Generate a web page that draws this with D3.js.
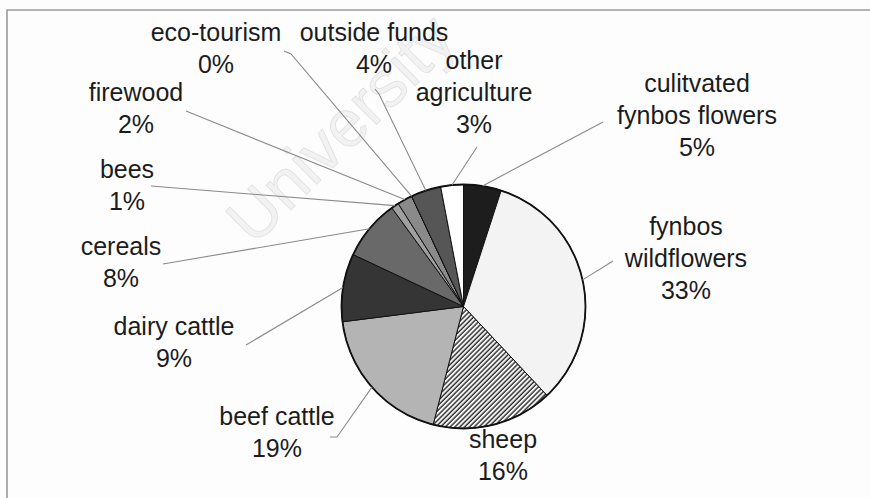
<!DOCTYPE html>
<html>
<head>
<meta charset="utf-8">
<script src="https://cdn.jsdelivr.net/npm/d3@7"></script>
<style>
  html, body { margin: 0; padding: 0; background: #fff; }
  svg { display: block; }
</style>
</head>
<body>
<svg id="chart" width="870" height="498"></svg>
<script>
// Sources of household income, share of total (%)
const categories = [
  "culitvated fynbos flowers", "fynbos wildflowers", "sheep", "beef cattle",
  "dairy cattle", "cereals", "bees", "firewood", "eco-tourism",
  "outside funds", "other agriculture"
];
const shares = [5, 33, 16, 19, 9, 8, 1, 2, 0, 4, 3];
const labelLines = [
  ["culitvated", "fynbos flowers"], ["fynbos", "wildflowers"], ["sheep"],
  ["beef cattle"], ["dairy cattle"], ["cereals"], ["bees"], ["firewood"],
  ["eco-tourism"], ["outside funds"], ["other", "agriculture"]
];
const sliceFills = [
  "#1d1d1d", "#f3f3f3", "url(#hatch)", "#b4b4b4", "#353535", "#696969",
  "#a0a0a0", "#8a8a8a", "#777777", "#565656", "#ffffff"
];

// Hand-placed label boxes: centre x, first baseline, and where each leader line leaves the label
const labelLayout = [
  { x: 697, y: 92,  lead: [[603, 122]] },
  { x: 686, y: 235, lead: [[613, 261]] },
  { x: 503, y: 448, lead: null },
  { x: 277, y: 425, lead: [[330, 437], [337, 437]] },
  { x: 174, y: 335, lead: [[246, 345]] },
  { x: 121, y: 255, lead: [[163, 264]] },
  { x: 127, y: 178, lead: [[151, 186]] },
  { x: 136, y: 101, lead: [[186, 111]] },
  { x: 216, y: 41,  lead: [[284, 51], [291, 54]] },
  { x: 374, y: 41,  lead: [[375, 89], [379, 94]] },
  { x: 474, y: 69,  lead: [[477, 147]] }
];

const W = 870, H = 498;
const cx = 463.5, cy = 306.5, R = 122;
const lineGap = 32;

const svg = d3.select("#chart");

const defs = svg.append("defs");
const hatch = defs.append("pattern")
  .attr("id", "hatch")
  .attr("patternUnits", "userSpaceOnUse")
  .attr("width", 3.4).attr("height", 3.4)
  .attr("patternTransform", "rotate(45)");
hatch.append("rect").attr("width", 3.4).attr("height", 3.4).attr("fill", "#f4f4f4");
hatch.append("line")
  .attr("x1", 1).attr("y1", 0).attr("x2", 1).attr("y2", 3.4)
  .attr("stroke", "#1e1e1e").attr("stroke-width", 1.3);

svg.append("rect").attr("width", W).attr("height", H).attr("fill", "#fdfdfd");

// faint watermark behind the chart
svg.append("text")
  .attr("transform", "translate(254,247) rotate(-45)")
  .attr("font-family", "Liberation Sans, Arial, sans-serif")
  .attr("font-size", 66)
  .attr("fill", "#f2f2f2")
  .attr("stroke", "#e0e0e0")
  .attr("stroke-width", 0.8)
  .text("University");

// chart frame (left and top edges visible)
svg.append("path")
  .attr("d", `M7,${H} L7,10 L${W},10`)
  .attr("fill", "none")
  .attr("stroke", "#9a9a9a")
  .attr("stroke-width", 1.6);

const pie = d3.pie().sort(null).value(d => d)(shares);
const arc = d3.arc().innerRadius(0).outerRadius(R);

const g = svg.append("g").attr("transform", `translate(${cx},${cy})`);

g.selectAll("path.slice")
  .data(pie)
  .join("path")
  .attr("class", "slice")
  .attr("d", arc)
  .attr("fill", (d, i) => sliceFills[i])
  .attr("stroke", "#111")
  .attr("stroke-width", 1)
  .attr("stroke-linejoin", "round");

g.append("circle")
  .attr("r", R)
  .attr("fill", "none")
  .attr("stroke", "#111")
  .attr("stroke-width", 1.8);

// leader lines from each label to the middle of its slice's rim
const edgePoint = d => {
  const a = (d.startAngle + d.endAngle) / 2;
  return [cx + R * Math.sin(a), cy - R * Math.cos(a)];
};
const line = d3.line();
svg.append("g")
  .selectAll("path")
  .data(pie.filter((d, i) => labelLayout[i].lead))
  .join("path")
  .attr("d", d => line(labelLayout[d.index].lead.concat([edgePoint(d)])))
  .attr("fill", "none")
  .attr("stroke", "#8a8a8a")
  .attr("stroke-width", 1.1);

// labels: category name lines then the share
const labels = svg.append("g")
  .attr("font-family", "Liberation Sans, Arial, sans-serif")
  .attr("font-size", 25)
  .attr("fill", "#1c1c1c")
  .attr("text-anchor", "middle");

categories.forEach((c, i) => {
  const L = labelLayout[i];
  const lines = labelLines[i].concat([d3.format("d")(shares[i]) + "%"]);
  const t = labels.append("text").attr("x", L.x).attr("y", L.y);
  lines.forEach((s, k) => {
    t.append("tspan").attr("x", L.x).attr("y", L.y + k * lineGap).text(s);
  });
});
</script>
</body>
</html>
